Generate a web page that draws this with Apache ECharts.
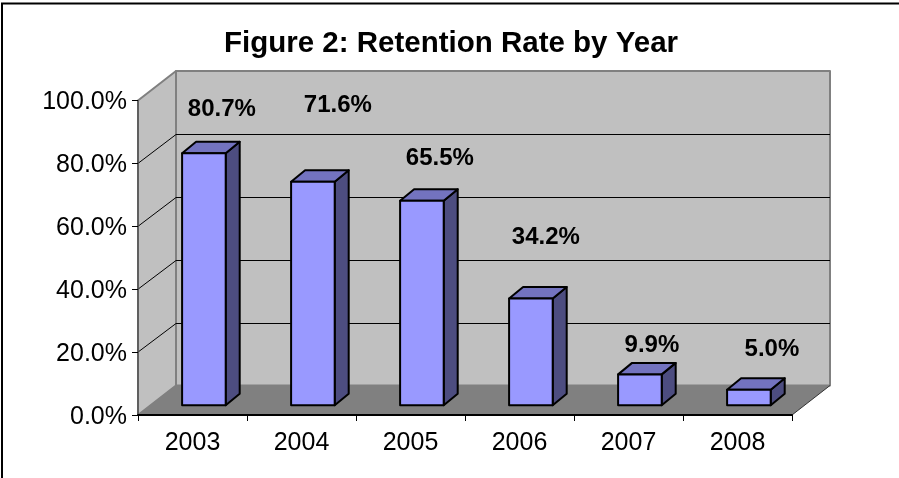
<!DOCTYPE html>
<html>
<head>
<meta charset="utf-8">
<title>Retention Rate by Year</title>
<style>
  html, body { margin: 0; padding: 0; background: #fff; }
  #main { width: 899px; height: 478px; }
</style>
<script src="https://cdn.jsdelivr.net/npm/echarts@6/dist/echarts.min.js"></script>
</head>
<body>
<div id="main"></div>
<script>
var years = ['2003', '2004', '2005', '2006', '2007', '2008']
var retention = [80.7, 71.6, 65.5, 34.2, 9.9, 5.0]
var wallTicks = [20, 40, 60, 80]

// the labels were moved by hand in the original, so each has its own offset from the bar top
var labelOffsets = [[18, -44], [25, -76.5], [18, -42], [15, -61], [12, -29], [23, -40.5]]

var FONT = '"Liberation Sans", Arial, sans-serif'
var DEPTH_X = 38
var DEPTH_Y = 29.5
var BAR_SHIFT_X = 11.4
var BAR_SHIFT_Y = 9.7
var BAR_DEPTH_X = 14
var BAR_DEPTH_Y = 11.5
var BAR_SCALE = 0.993

function poly (points, fill, stroke, width) {
  return {
    type: 'polygon',
    shape: { points: points },
    style: { fill: fill, stroke: stroke, lineWidth: width, lineJoin: 'round' }
  }
}

function line (x1, y1, x2, y2, stroke, width) {
  return {
    type: 'line',
    shape: { x1: x1, y1: y1, x2: x2, y2: y2 },
    style: { stroke: stroke, lineWidth: width }
  }
}

// side wall, back wall and floor
function renderWalls (params) {
  var r = params.coordSys
  var l = r.x
  var t = r.y
  var w = r.width
  var b = r.y + r.height
  return {
    type: 'group',
    children: [
      poly([[l, b], [l + DEPTH_X, b - DEPTH_Y], [l + DEPTH_X, t - DEPTH_Y], [l, t]], '#c0c0c0', '#808080', 2),
      poly([[l + DEPTH_X, t - DEPTH_Y], [l + w + DEPTH_X, t - DEPTH_Y], [l + w + DEPTH_X, b - DEPTH_Y], [l + DEPTH_X, b - DEPTH_Y]], '#c0c0c0', '#808080', 2),
      poly([[l, b], [l + w, b], [l + w + DEPTH_X, b - DEPTH_Y], [l + DEPTH_X, b - DEPTH_Y]], '#808080', null, 0),
      line(l + w, b, l + w + DEPTH_X, b - DEPTH_Y, '#333', 1)
    ]
  }
}

// gridlines run across the back wall and down the side wall
function renderWallTick (params, api) {
  var r = params.coordSys
  var y = api.coord([0, api.value(0)])[1]
  var backY = Math.round(y - DEPTH_Y) + 0.5
  return {
    type: 'group',
    children: [
      line(r.x, y, r.x + DEPTH_X, backY, '#000', 1),
      line(r.x + DEPTH_X, backY, r.x + r.width + DEPTH_X, backY, '#000', 1)
    ]
  }
}

function renderBar (params, api) {
  var i = params.dataIndex
  var base = api.coord([i, 0])
  var top = api.coord([i, api.value(1)])
  var width = api.size([1, 0])[0] * 0.4
  var x0 = base[0] - width / 2 + BAR_SHIFT_X
  var x1 = x0 + width
  var y0 = base[1] - BAR_SHIFT_Y
  var y1 = y0 - (base[1] - top[1]) * BAR_SCALE
  var dx = BAR_DEPTH_X
  var dy = BAR_DEPTH_Y
  return {
    type: 'group',
    children: [
      poly([[x1, y0], [x1 + dx, y0 - dy], [x1 + dx, y1 - dy], [x1, y1]], '#4d4d80', '#000', 2),
      poly([[x0, y1], [x1, y1], [x1 + dx, y1 - dy], [x0 + dx, y1 - dy]], '#7373bf', '#000', 2),
      poly([[x0, y0], [x1, y0], [x1, y1], [x0, y1]], '#9999ff', '#000', 2),
      {
        type: 'text',
        x: (x0 + x1) / 2 + labelOffsets[i][0],
        y: y1 + labelOffsets[i][1],
        style: {
          text: api.value(1).toFixed(1) + '%',
          font: 'bold 24px ' + FONT,
          fill: '#000',
          align: 'center',
          verticalAlign: 'middle'
        }
      }
    ]
  }
}

var chart = echarts.init(document.getElementById('main'), null, { renderer: 'canvas' })
chart.setOption({
  animation: false,
  backgroundColor: '#fff',
  title: {
    text: 'Figure 2: Retention Rate by Year',
    left: 446,
    top: 24,
    textAlign: 'center',
    textStyle: { fontFamily: FONT, fontSize: 29.5, fontWeight: 'bold', color: '#000' }
  },
  graphic: [{
    type: 'polyline',
    shape: { points: [[2, 478], [2, 3.5], [899, 3.5]] },
    style: { fill: null, stroke: '#000', lineWidth: 2 }
  }],
  grid: { left: 138, right: 107, top: 100.5, bottom: 63 },
  xAxis: {
    type: 'category',
    data: years,
    z: 5,
    axisLine: { lineStyle: { color: '#000', width: 2 } },
    axisTick: { show: true, alignWithLabel: false, length: 6, lineStyle: { color: '#000', width: 1 } },
    axisLabel: { margin: 16, color: '#000', fontFamily: FONT, fontSize: 25, interval: 0 }
  },
  yAxis: {
    type: 'value',
    min: 0,
    max: 100,
    interval: 20,
    z: 5,
    splitLine: { show: false },
    axisLine: { show: true, lineStyle: { color: '#555', width: 1.5 } },
    axisTick: { show: true, length: 6, lineStyle: { color: '#000', width: 1 } },
    axisLabel: {
      margin: 11,
      color: '#000',
      formatter: function (v) { return '{tick|' + v.toFixed(1) + '%}' },
      rich: {
        tick: { color: '#000', fontFamily: FONT, fontSize: 25, padding: [4, 0, 0, 0] }
      }
    }
  },
  series: [
    { type: 'custom', z: 1, silent: true, data: [[0]], renderItem: renderWalls },
    { type: 'custom', z: 2, silent: true, data: wallTicks.map(function (v) { return [v] }), encode: { y: 0 }, renderItem: renderWallTick },
    {
      type: 'custom',
      z: 3,
      data: retention.map(function (v, i) { return [i, v] }),
      encode: { x: 0, y: 1 },
      renderItem: renderBar
    }
  ]
})
</script>
</body>
</html>
